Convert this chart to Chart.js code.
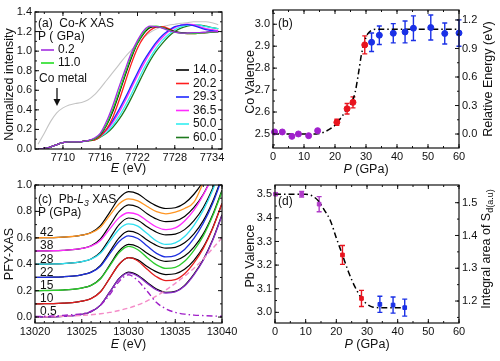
<!DOCTYPE html>
<html><head><meta charset="utf-8">
<script src="https://cdn.jsdelivr.net/npm/chart.js"></script>
<style>
html,body{margin:0;padding:0;background:#fff;width:500px;height:361px;overflow:hidden;position:relative;}
canvas{position:absolute;}
</style></head><body>
<canvas id="ca" width="250" height="180" style="left:0px;top:0px"></canvas>
<canvas id="cb" width="260" height="180" style="left:240px;top:0px"></canvas>
<canvas id="cc" width="250" height="186" style="left:0px;top:175px"></canvas>
<canvas id="cd" width="260" height="186" style="left:240px;top:175px"></canvas>
<script>
// ---------------- Panel (a): Co-K XAS ----------------
const coE = [7706,7707,7708,7709,7710,7711,7712,7713,7714,7715,7716,7717,7718,7719,7720,7721,7722,7723,7724,7725,7726,7727,7728,7729,7730,7731,7732,7733,7734,7735];
const coMetal = [0.05,0.16,0.28,0.37,0.42,0.45,0.465,0.475,0.5,0.55,0.62,0.7,0.78,0.86,0.94,1.01,1.08,1.14,1.19,1.225,1.25,1.265,1.275,1.285,1.29,1.3,1.3,1.3,1.29,1.27];
const co02 = [0.0,0.005,0.02,0.045,0.065,0.072,0.072,0.075,0.085,0.11,0.16,0.28,0.44,0.63,0.81,0.98,1.11,1.21,1.255,1.25,1.235,1.21,1.195,1.185,1.185,1.19,1.19,1.195,1.2,1.2];
const co11 = [0.0,0.005,0.02,0.045,0.065,0.072,0.072,0.075,0.085,0.1,0.15,0.25,0.4,0.58,0.77,0.95,1.09,1.19,1.25,1.255,1.24,1.215,1.195,1.185,1.18,1.18,1.185,1.19,1.195,1.2];
const co14 = [0.0,0.005,0.02,0.045,0.065,0.072,0.072,0.075,0.085,0.1,0.145,0.24,0.38,0.56,0.75,0.93,1.08,1.18,1.24,1.25,1.24,1.22,1.2,1.19,1.185,1.185,1.19,1.19,1.195,1.2];
const co20 = [0.0,0.005,0.02,0.045,0.065,0.072,0.072,0.075,0.085,0.09,0.13,0.2,0.32,0.49,0.68,0.87,1.03,1.14,1.21,1.245,1.25,1.23,1.2,1.185,1.18,1.18,1.185,1.19,1.2,1.2];
const co29 = [0.0,0.005,0.02,0.045,0.065,0.072,0.072,0.075,0.085,0.1,0.14,0.2,0.29,0.4,0.52,0.65,0.78,0.9,1.0,1.09,1.16,1.21,1.25,1.265,1.27,1.26,1.24,1.22,1.21,1.2];
const co36 = [0.0,0.005,0.02,0.045,0.065,0.072,0.072,0.075,0.085,0.1,0.135,0.19,0.27,0.37,0.49,0.62,0.75,0.87,0.98,1.07,1.14,1.2,1.24,1.265,1.275,1.27,1.25,1.23,1.22,1.21];
const co50 = [0.0,0.005,0.02,0.045,0.065,0.072,0.072,0.075,0.085,0.095,0.125,0.17,0.24,0.33,0.44,0.56,0.69,0.82,0.93,1.03,1.11,1.17,1.22,1.25,1.265,1.27,1.265,1.25,1.24,1.23];
const co60 = [0.0,0.005,0.02,0.045,0.065,0.072,0.072,0.075,0.085,0.09,0.12,0.16,0.22,0.3,0.4,0.52,0.65,0.78,0.9,1.0,1.08,1.15,1.2,1.235,1.255,1.265,1.265,1.255,1.24,1.23];
const coLabels = ['0.2','11.0','14.0','20.2','29.3','36.5','50.0','60.0'];
const aXTicks = [7710,7716,7722,7728,7734];
const aYTicks = [0,0.2,0.4,0.6,0.8,1.0,1.2,1.4];

// ---------------- Panel (b): Co valence ----------------
const bP_purple = [0.5,3.0,6.1,8.2,11.5,14.4];
const bV_purple = [2.509,2.509,2.489,2.500,2.492,2.515];
const bP_red = [20.6,23.9,25.8,29.6];
const bV_red = [2.553,2.615,2.644,2.906];
const bErr_red = [0.014,0.024,0.025,0.041];
const bP_blue = [31.8,34.3,38.8,42.6,45.3,50.9,55.4,60.0];
const bV_blue = [2.918,2.950,2.959,2.965,2.982,2.985,2.958,2.960];
const bErr_blue = [0.042,0.042,0.044,0.05,0.056,0.057,0.048,0.06];
const bFitP = [0,14,17,20,22,24,25.5,26.5,27.5,28.5,29.5,30.5,31.5,33,60];
const bFitV = [2.5,2.5,2.512,2.54,2.575,2.615,2.645,2.69,2.77,2.86,2.92,2.955,2.97,2.977,2.977];
const bXTicks = [0,10,20,30,40,50,60];
const bYTicks = [2.5,2.6,2.7,2.8,2.9,3.0];
const bY2Ticks = [0.0,0.3,0.6,0.9,1.2];

// ---------------- Panel (c): Pb-L3 XAS ----------------
const cE = [13020,13021,13022,13023,13024,13025,13026,13027,13028,13029,13030,13031,13032,13033,13034,13035,13036,13037,13038,13039,13040];
const c05 = [0,0.001,0.002,0.005,0.01,0.02,0.04,0.09,0.19,0.29,0.335,0.31,0.255,0.205,0.182,0.19,0.235,0.32,0.43,0.58,0.77];
const c10 = [0,0.001,0.002,0.005,0.01,0.02,0.04,0.09,0.195,0.3,0.35,0.325,0.262,0.205,0.176,0.183,0.228,0.31,0.42,0.57,0.76];
const c15 = [0,0.001,0.002,0.005,0.01,0.02,0.04,0.088,0.188,0.288,0.335,0.31,0.25,0.195,0.168,0.176,0.222,0.305,0.415,0.565,0.75];
const c22 = [0,0.001,0.002,0.005,0.01,0.02,0.038,0.085,0.18,0.272,0.315,0.295,0.238,0.182,0.155,0.165,0.212,0.295,0.41,0.56,0.75];
const c28 = [0,0.001,0.002,0.005,0.01,0.02,0.038,0.083,0.175,0.265,0.305,0.288,0.232,0.176,0.15,0.162,0.21,0.295,0.41,0.56,0.75];
const c38 = [0,0.001,0.002,0.005,0.01,0.02,0.037,0.08,0.168,0.253,0.29,0.276,0.228,0.182,0.162,0.175,0.228,0.31,0.425,0.57,0.76];
const c42 = [0,0.001,0.002,0.005,0.01,0.02,0.037,0.08,0.17,0.258,0.295,0.28,0.237,0.198,0.182,0.195,0.222,0.27,0.42,0.6,0.8];
const cFit0 = [0,0.001,0.002,0.005,0.01,0.02,0.04,0.09,0.19,0.292,0.34,0.317,0.262,0.212,0.188,0.195,0.24,0.325,0.435,0.585,0.775];
const cFit = [0,0.001,0.002,0.005,0.01,0.02,0.04,0.092,0.195,0.3,0.35,0.333,0.283,0.242,0.222,0.228,0.262,0.33,0.43,0.575,0.76];
const cLor = [0.005,0.006,0.009,0.013,0.018,0.025,0.045,0.09,0.17,0.27,0.32,0.275,0.195,0.11,0.062,0.036,0.022,0.015,0.011,0.008,0.006];
const cStep = [0,0.002,0.004,0.006,0.009,0.013,0.018,0.025,0.035,0.05,0.068,0.092,0.122,0.16,0.205,0.255,0.31,0.37,0.44,0.52,0.6];
const cLabels = ['0.5','10','15','22','28','38','42'];
const cOffsets = [0,0.1,0.2,0.3,0.4,0.5,0.6];
const cXTicks = [13020,13025,13030,13035,13040];
const cYTicks = [0,0.2,0.4,0.6,0.8,1.0];

// ---------------- Panel (d): Pb valence ----------------
const dP_purple = [0.2,8.7,14.4];
const dV_purple = [3.5,3.5,3.458];
const dErr_purple = [0.004,0.012,0.032];
const dP_red = [22.0,28.2];
const dV_red = [3.243,3.059];
const dErr_red = [0.04,0.034];
const dP_blue = [34.2,38.5,42.3];
const dV_blue = [3.034,3.031,3.02];
const dErr_blue = [0.034,0.034,0.036];
const dFitP = [0,10,12.5,14.4,16,18,20,22,24,26,28.2,30,32,34,42.3];
const dFitV = [3.5,3.5,3.49,3.468,3.435,3.39,3.315,3.243,3.17,3.11,3.06,3.035,3.022,3.02,3.02];
const dXTicks = [0,10,20,30,40,50,60];
const dYTicks = [3.0,3.1,3.2,3.3,3.4,3.5];
const dY2Ticks = [1.2,1.3,1.4,1.5];

// ---------------- helpers ----------------
const FONT = "'Liberation Sans', Arial, Helvetica, sans-serif";
Chart.defaults.font.family = FONT;
Chart.defaults.font.size = 11;
Chart.defaults.color = '#111';

function pts(xs, ys, off){ off = off||0; return xs.map((x,i)=>({x:x, y:ys[i]+off})); }
function scale(o){
  return {
    type:'linear', axis:o.axis, position:o.pos, min:o.min, max:o.max,
    grid:{display:false, drawTicks:false}, border:{display:false},
    ticks:{autoSkip:false, maxRotation:0, minRotation:0, padding:(o.pad==null?3:o.pad), font:{size:11}, color:'#111', callback:o.fmt},
    afterBuildTicks:(s)=>{ s.ticks = o.ticks.map(v=>({value:v})); },
    afterFit:(s)=>{ if(o.axis==='x') s.height=o.size; else s.width=o.size; }
  };
}
const f1 = v => Number(v).toFixed(1);
const f0 = v => String(Math.round(v));

function fontStr(s, base){ const sz = s.sub ? base*0.72 : base; return (s.it?'italic ':'') + sz + 'px ' + FONT; }
function rich(ctx, segs, x, y, o){
  o = o||{}; const base=o.size||12;
  ctx.save(); ctx.translate(x,y); if(o.rot) ctx.rotate(o.rot);
  const ws = segs.map(s=>{ ctx.font=fontStr(s,base); return ctx.measureText(s.t).width; });
  const tot = ws.reduce((a,b)=>a+b,0);
  let cx = o.align==='center' ? -tot/2 : (o.align==='right' ? -tot : 0);
  ctx.textBaseline='middle'; ctx.textAlign='left'; ctx.fillStyle=o.color||'#111';
  segs.forEach((s,i)=>{ ctx.font=fontStr(s,base); ctx.fillText(s.t, cx, s.sub? base*0.32 : 0); cx+=ws[i]; });
  ctx.restore();
}
function framePlugin(cfg){
  return {id:'frame', afterDatasetsDraw(chart){
    const ctx=chart.ctx, a=chart.chartArea, s=chart.scales;
    ctx.save(); ctx.strokeStyle='#111'; ctx.lineWidth=1.2;
    ctx.strokeRect(a.left, a.top, a.right-a.left, a.bottom-a.top);
    ctx.lineWidth=1;
    const mk=(sc,step)=>{ const out=[]; if(!step) return out; for(let k=Math.ceil(sc.min/step-1e-9); k*step<=sc.max+1e-9; k++) out.push(k*step); return out; };
    ctx.beginPath();
    const xs=s.x;
    const dx=(v,len)=>{ const p=xs.getPixelForValue(v); ctx.moveTo(p,a.bottom); ctx.lineTo(p,a.bottom-len); ctx.moveTo(p,a.top); ctx.lineTo(p,a.top+len); };
    mk(xs,cfg.xMinor).forEach(v=>dx(v,2)); xs.ticks.forEach(t=>dx(t.value,4));
    const ys=s.y, y2=s.y2;
    const dy=(sc,v,len,left,right)=>{ const p=sc.getPixelForValue(v); if(left){ctx.moveTo(a.left,p); ctx.lineTo(a.left+len,p);} if(right){ctx.moveTo(a.right,p); ctx.lineTo(a.right-len,p);} };
    mk(ys,cfg.yMinor).forEach(v=>dy(ys,v,2,true,!y2)); ys.ticks.forEach(t=>dy(ys,t.value,4,true,!y2));
    if(y2){ mk(y2,cfg.y2Minor).forEach(v=>dy(y2,v,2,false,true)); y2.ticks.forEach(t=>dy(y2,t.value,4,false,true)); }
    ctx.stroke(); ctx.restore();
  }};
}
const errPlugin = {id:'err', beforeDatasetsDraw(chart){
  const ctx=chart.ctx;
  chart.data.datasets.forEach((ds,di)=>{
    if(!ds.err) return;
    const meta=chart.getDatasetMeta(di); const ys=chart.scales[meta.yAxisID];
    ctx.save(); ctx.strokeStyle=ds.pointBorderColor; ctx.lineWidth=1.4;
    ds.data.forEach((p,i)=>{
      const e=ds.err[i], x=meta.data[i].x;
      const y1=ys.getPixelForValue(p.y+e), y2=ys.getPixelForValue(p.y-e);
      ctx.beginPath(); ctx.moveTo(x,y1); ctx.lineTo(x,y2);
      ctx.moveTo(x-2.5,y1); ctx.lineTo(x+2.5,y1); ctx.moveTo(x-2.5,y2); ctx.lineTo(x+2.5,y2); ctx.stroke();
    });
    ctx.restore();
  });
}};
function baseOpts(pad){
  return {responsive:false, animation:false, devicePixelRatio:1,
    layout:{padding:pad},
    plugins:{legend:{display:false}, tooltip:{enabled:false}},
    elements:{point:{radius:0}, line:{borderWidth:1.3, tension:0}}};
}
function lineDS(xs, ys, color, off, extra){
  return Object.assign({data:pts(xs,ys,off), borderColor:color, backgroundColor:color, borderWidth:1.3, pointRadius:0, cubicInterpolationMode:'monotone', fill:false}, extra||{});
}
function pointDS(xs, ys, color, err, style, r, yAxisID){
  const d = {data:pts(xs,ys), showLine:false, pointRadius:r, pointStyle:style, pointBackgroundColor:color, pointBorderColor:color, borderColor:color, pointBorderWidth:1, clip:10, yAxisID:'y'};
  if(err) d.err = err;
  return d;
}
const ROT = -Math.PI/2;

// ---------------- Chart (a) ----------------
const aColors = ['#a22ee0','#22dd22','#000000','#ff1e1e','#1e28ff','#ff2cff','#33eef0','#1e7a1e'];
const aSeries = [co02,co11,co14,co20,co29,co36,co50,co60];
(function(){
  const ds = [];
  for(let i=0;i<4;i++) ds.push(lineDS(coE, aSeries[i], aColors[i]));
  for(let i=4;i<8;i++) ds.push(lineDS(coE, aSeries[i], aColors[i]));
  ds.push(lineDS(coE, coMetal, '#c4c4c4', 0, {borderWidth:1.1}));
  const o = baseOpts({top:12,right:28,left:0,bottom:0});
  o.scales = {
    x: scale({axis:'x',pos:'bottom',min:7705.5,max:7735.6,ticks:aXTicks,fmt:f0,size:31,pad:2}),
    y: scale({axis:'y',pos:'left',min:0,max:1.4,ticks:aYTicks,fmt:f1,size:35})
  };
  const deco = {id:'deco', afterDraw(chart){
    const ctx=chart.ctx, a=chart.chartArea;
    rich(ctx,[{t:'(a)  Co-'},{t:'K',it:1},{t:' XAS'}],38,24,{size:12});
    rich(ctx,[{t:'P ( GPa)'}],38,37,{size:12});
    const leg=(i,x,y)=>{ ctx.save(); ctx.strokeStyle=aColors[i]; ctx.lineWidth=1.6; ctx.beginPath(); ctx.moveTo(x,y); ctx.lineTo(x+13,y); ctx.stroke(); ctx.restore(); rich(ctx,[{t:coLabels[i]}],x+17,y,{size:12}); };
    leg(0,41,50); leg(1,41,63);
    for(let i=2;i<8;i++) leg(i,176,70+(i-2)*13.5);
    rich(ctx,[{t:'Co metal'}],39,79,{size:12});
    ctx.save(); ctx.strokeStyle='#111'; ctx.fillStyle='#111'; ctx.lineWidth=1.3;
    ctx.beginPath(); ctx.moveTo(57,88); ctx.lineTo(57,100); ctx.stroke();
    ctx.beginPath(); ctx.moveTo(53.5,99); ctx.lineTo(60.5,99); ctx.lineTo(57,106); ctx.closePath(); ctx.fill(); ctx.restore();
    rich(ctx,[{t:'Normalized intensity'}],10,(a.top+a.bottom)/2+4,{size:12.5,rot:ROT,align:'center'});
    rich(ctx,[{t:'E',it:1},{t:' (eV)'}],(a.left+a.right)/2,169,{size:12.5,align:'center'});
  }};
  new Chart(document.getElementById('ca'),{type:'line',data:{datasets:ds},options:o,plugins:[framePlugin({xMinor:3,yMinor:0.1}),deco]});
})();

// ---------------- Chart (b) ----------------
(function(){
  const ds = [
    pointDS(bP_purple,bV_purple,'#a020cc',null,'circle',3),
    pointDS(bP_red,bV_red,'#e8141e',bErr_red,'circle',3),
    pointDS(bP_blue,bV_blue,'#1a30e6',bErr_blue,'circle',3),
    lineDS(bFitP,bFitV,'#000',0,{borderWidth:1.5,borderDash:[6,3,1.5,3]})
  ];
  const o = baseOpts({top:10,right:0,left:0,bottom:0});
  o.scales = {
    x: scale({axis:'x',pos:'bottom',min:0,max:60,ticks:bXTicks,fmt:f0,size:32,pad:2}),
    y: scale({axis:'y',pos:'left',min:2.436,max:3.065,ticks:bYTicks,fmt:f1,size:33}),
    y2: scale({axis:'y',pos:'right',min:-0.147,max:1.305,ticks:bY2Ticks,fmt:f1,size:41})
  };
  const deco = {id:'deco', afterDraw(chart){
    const ctx=chart.ctx, a=chart.chartArea;
    rich(ctx,[{t:'(b)'}],a.left+5,24,{size:12});
    rich(ctx,[{t:'Co Valence'}],11,(a.top+a.bottom)/2+3,{size:12.5,rot:ROT,align:'center'});
    rich(ctx,[{t:'Relative Energy (eV)'}],249,(a.top+a.bottom)/2,{size:12.5,rot:ROT,align:'center'});
    rich(ctx,[{t:'P',it:1},{t:' (GPa)'}],(a.left+a.right)/2,170,{size:12.5,align:'center'});
  }};
  new Chart(document.getElementById('cb'),{type:'line',data:{datasets:ds},options:o,plugins:[errPlugin,framePlugin({xMinor:5,yMinor:0.05,y2Minor:0.15}),deco]});
})();

// ---------------- Chart (c) ----------------
const cColors = ['#8a2cc8','#e41e1e','#2ccc2c','#1e30e0','#2ee0f0','#ff2cff','#ff9522'];
const cSeries = [c05,c10,c15,c22,c28,c38,c42];
(function(){
  const ds = [
    lineDS(cE,cLor,'#a020c8',0,{borderDash:[6,3,1.5,3],borderWidth:1.4}),
    lineDS(cE,cStep,'#f48cc8',0,{borderDash:[5,3],borderWidth:1.4})
  ];
  for(let i=0;i<7;i++){
    ds.push(lineDS(cE,cSeries[i],cColors[i],cOffsets[i]));
    ds.push(lineDS(cE,i===0?cFit0:cFit,'#000',cOffsets[i],{borderWidth:1.2}));
  }
  const o = baseOpts({top:10,right:28,left:0,bottom:0});
  o.scales = {
    x: scale({axis:'x',pos:'bottom',min:13020,max:13040,ticks:cXTicks,fmt:f0,size:38,pad:2}),
    y: scale({axis:'y',pos:'left',min:-0.045,max:1.0,ticks:cYTicks,fmt:f1,size:35})
  };
  const deco = {id:'deco', afterDraw(chart){
    const ctx=chart.ctx, a=chart.chartArea, ys=chart.scales.y;
    rich(ctx,[{t:'(c)  Pb-'},{t:'L',it:1},{t:'3',sub:1,it:1},{t:' XAS'}],38,25,{size:12});
    rich(ctx,[{t:'P (GPa)'}],38,38,{size:12});
    for(let i=0;i<7;i++) rich(ctx,[{t:cLabels[i]}],a.left+5,ys.getPixelForValue(cOffsets[i])-5,{size:12});
    rich(ctx,[{t:'PFY-XAS'}],10,(a.top+a.bottom)/2,{size:12.5,rot:ROT,align:'center'});
    rich(ctx,[{t:'E',it:1},{t:' (eV)'}],(a.left+a.right)/2,170,{size:12.5,align:'center'});
  }};
  new Chart(document.getElementById('cc'),{type:'line',data:{datasets:ds},options:o,plugins:[framePlugin({xMinor:1,yMinor:0.1}),deco]});
})();

// ---------------- Chart (d) ----------------
(function(){
  const ds = [
    pointDS(dP_purple,dV_purple,'#b03cc8',dErr_purple,'rect',2.6),
    pointDS(dP_red,dV_red,'#e8141e',dErr_red,'rect',2.6),
    pointDS(dP_blue,dV_blue,'#1a30e6',dErr_blue,'rect',2.6),
    lineDS(dFitP,dFitV,'#000',0,{borderWidth:1.5,borderDash:[6,3,1.5,3]})
  ];
  const o = baseOpts({top:10,right:0,left:0,bottom:0});
  o.scales = {
    x: scale({axis:'x',pos:'bottom',min:0,max:60,ticks:dXTicks,fmt:f0,size:38,pad:2}),
    y: scale({axis:'y',pos:'left',min:2.955,max:3.539,ticks:dYTicks,fmt:f1,size:35}),
    y2: scale({axis:'y',pos:'right',min:1.133,max:1.554,ticks:dY2Ticks,fmt:f1,size:41})
  };
  const deco = {id:'deco', afterDraw(chart){
    const ctx=chart.ctx, a=chart.chartArea;
    rich(ctx,[{t:'(d)'}],a.left+3,27,{size:12});
    rich(ctx,[{t:'Pb Valence'}],11,(a.top+a.bottom)/2+2,{size:12.5,rot:ROT,align:'center'});
    rich(ctx,[{t:'Integral area of S'},{t:'d(a.u)',sub:1}],247,(a.top+a.bottom)/2-5,{size:12.5,rot:ROT,align:'center'});
    rich(ctx,[{t:'P',it:1},{t:' (GPa)'}],(a.left+a.right)/2,170,{size:12.5,align:'center'});
  }};
  new Chart(document.getElementById('cd'),{type:'line',data:{datasets:ds},options:o,plugins:[errPlugin,framePlugin({xMinor:5,yMinor:0.05,y2Minor:0.05}),deco]});
})();
</script>
</body></html>
